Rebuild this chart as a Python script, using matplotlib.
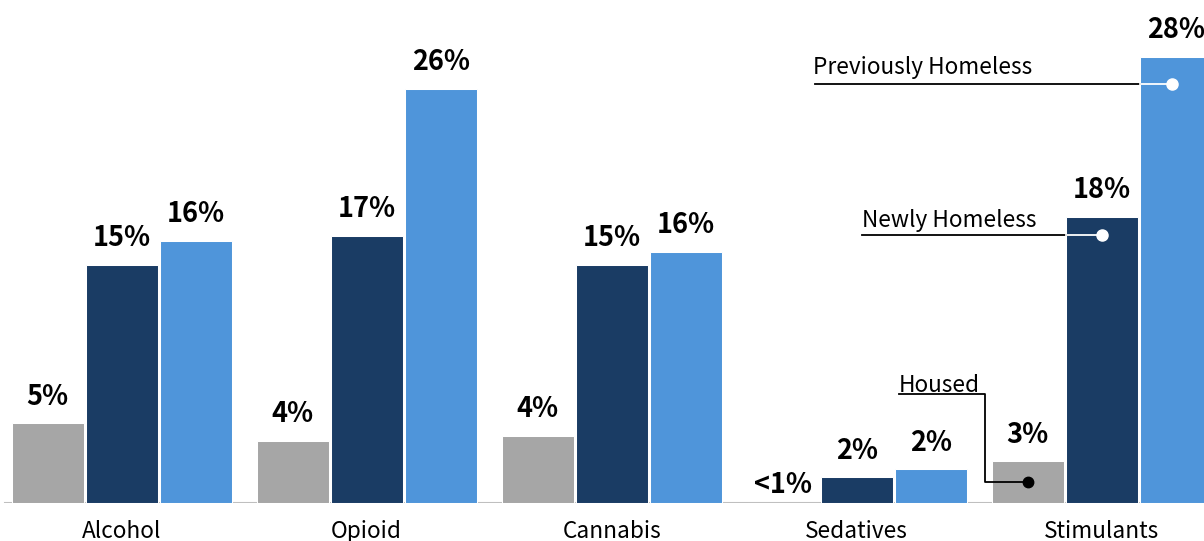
import matplotlib
matplotlib.use("Agg")
import matplotlib.pyplot as plt
import numpy as np

plt.rcParams['font.family'] = ['Noto Sans CJK KR', 'DejaVu Sans']

# share of each group reporting use, by substance (%)
categories = ["Alcohol", "Opioid", "Cannabis", "Sedatives", "Stimulants"]
series = ["Housed", "Newly Homeless", "Previously Homeless"]
housed = [5.0, 3.9, 4.2, 0.0, 2.6]
newly_homeless = [14.9, 16.7, 14.9, 1.6, 17.9]
prev_homeless = [16.4, 25.9, 15.7, 2.1, 27.9]

colors = ["#a6a6a6", "#1a3c64", "#4f95da"]

W, H = 1204, 541
fig = plt.figure(figsize=(W / 100, H / 100), dpi=100)
# axes: baseline 503px from top, 16px per percent
ax = fig.add_axes([0, 38 / H, 1, 503 / H])
ax.set_xlim(-121.7 / 245, (W - 121.7) / 245)
ax.set_ylim(0, 503 / 16)
for s in ax.spines.values():
    s.set_visible(False)
ax.set_yticks([])

x = np.arange(len(categories))
step = 0.302
bw = 0.294

ax.axhline(0, xmin=5 / W, xmax=1, color="#bfbfbf", lw=1.5, zorder=1)

all_vals = [housed, newly_homeless, prev_homeless]
for i, vals in enumerate(all_vals):
    pos = x + (i - 1) * step
    ax.bar(pos, vals, width=bw, color=colors[i], edgecolor="white",
           linewidth=0.75, zorder=2)
    for px, v in zip(pos, vals):
        if v < 1:
            txt, off = "<1%", 7.0
        else:
            txt, off = f"{round(v)}%", 13.2
        ax.annotate(txt, (px, v), xytext=(0, off), textcoords="offset points",
                    ha="center", va="baseline", fontsize=19.5,
                    fontweight="bold", color="black", zorder=4)

ax.set_xticks(x, categories)
ax.tick_params(axis="x", length=0, pad=25.5, labelsize=16.3)
for t in ax.get_xticklabels():
    t.set_va("baseline")

# callouts pointing at the Stimulants bars
last = len(categories) - 1
lw_call = 1.3
fs_call = 16.3
# Previously Homeless
bx = last + step
left_edge = bx - bw / 2
ly = 26.17
ax.plot([2.830, left_edge], [ly, ly], color="black", lw=lw_call, zorder=3)
ax.plot([left_edge, bx], [ly, ly], color="white", lw=lw_call, zorder=3)
ax.plot(bx - 0.016, ly, "o", color="white", ms=8, zorder=3)
ax.annotate(series[2], (2.822, ly), xytext=(0, 7.5), textcoords="offset points",
            ha="left", va="baseline", fontsize=fs_call, zorder=3)

# Newly Homeless
bx = last
left_edge = bx - bw / 2
ly = 16.75
ax.plot([3.020, left_edge], [ly, ly], color="black", lw=lw_call, zorder=3)
ax.plot([left_edge, bx], [ly, ly], color="white", lw=lw_call, zorder=3)
ax.plot(bx, ly, "o", color="white", ms=8, zorder=3)
ax.annotate(series[1], (3.020, ly), xytext=(0, 6.0), textcoords="offset points",
            ha="left", va="baseline", fontsize=fs_call, zorder=3)

# Housed
bx = last - step
ly = 6.84
ax.plot([3.173, 3.524, 3.524, bx], [ly, ly, 1.31, 1.31], color="black",
        lw=lw_call, zorder=3)
ax.plot(bx, 1.31, "o", color="black", ms=7.5, zorder=3)
ax.annotate(series[0], (3.173, ly), xytext=(0, 1.3), textcoords="offset points",
            ha="left", va="baseline", fontsize=fs_call, zorder=3)

fig.savefig("out.png", dpi=100)
